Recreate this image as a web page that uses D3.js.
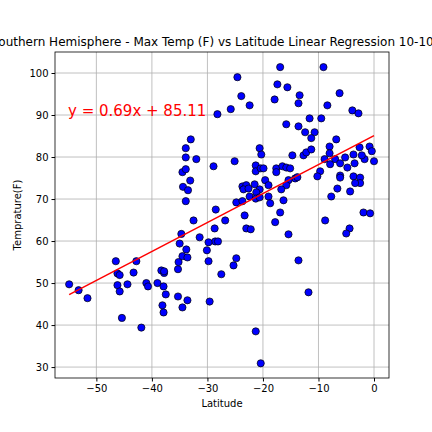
<!DOCTYPE html>
<html><head><meta charset="utf-8">
<script src="https://cdn.jsdelivr.net/npm/d3@7"></script>
<style>body{margin:0;background:#fff}svg{font-family:"DejaVu Sans",sans-serif}</style>
</head><body><svg id="c" width="432" height="432"></svg>
<script>
// latitude / max temp pairs
const lat = [-54.9,-53.2,-51.6,-46.5,-46.2,-45.8,-46.2,-45.8,-45.4,-44.4,-43.3,-42.8,-41.9,-41.0,-40.7,-39.0,-38.3,-37.8,-37.8,-37.9,-37.5,-38.1,-37.9,-35.3,-34.5,-33.6,-35.3,-35.2,-34.5,-33.6,-33.8,-35.0,-34.7,-32.5,-31.4,-33.9,-34.4,-33.5,-33.1,-34.5,-33.9,-33.9,-33.9,-33.0,-32.0,-28.2,-28.9,-28.5,-28.7,-28.6,-28.1,-29.8,-30.1,-29.8,-27.5,-29.6,-26.8,
 -16.9,-9.1,-24.6,-17.4,-15.6,-23.9,-17.9,-13.4,-13.6,-6.2,-22.4,-25.8,-8.4,-3.9,-2.8,-15.8,-13.6,-11.6,-9.5,-12.4,-10.7,-11.3,-6.8,-8.0,-20.6,-20.3,-25.1,-14.7,-12.7,-12.2,-11.3,-8.0,-8.9,-7.9,-7.0,-6.1,-5.2,-4.8,-3.7,-2.6,-3.5,-0.8,-0.4,0.0,-1.7,-2.2,-9.7,-10.2,-6.1,-6.1,-3.7,-2.5,-2.5,-3.4,-6.6,-4.3,-7.7,-1.9,-0.7,-8.8,-4.4,-5.0,
 -21.3,-21.3,-20.4,-19.9,-17.6,-17.6,-16.5,-15.8,-15.1,-19.6,-19.0,-14.2,-13.8,-15.4,-15.8,-16.7,-23.7,-23.0,-23.5,-22.6,-21.5,-20.6,-21.2,-22.4,-21.3,-20.6,-19.0,-16.3,-18.7,-24.8,-23.7,-23.3,-23.0,-22.2,-16.9,-17.8,-15.4,-24.8,-25.3,-13.6,-11.8,-21.3,-20.4];
const temp = [49.7,48.3,46.4,55.2,52.3,51.9,49.5,48.0,41.7,49.7,52.5,55.2,39.4,50,49.2,50,53,52.4,52.8,49.2,47.3,44.7,43.0,46.8,44.2,45.9,53.3,55.0,56.4,56.1,58.0,59.4,61.7,64.9,60.9,69.5,72.9,72.1,74.4,76.4,77.1,79.9,82.1,84.2,79.5,90.2,77.8,67.5,63.0,59.9,59.9,59.7,57.8,55.2,52.1,45.6,64.9,
 101.4,101.4,99.0,97.3,96.6,94.5,93.7,94.7,92.8,95.2,92.3,91.4,92.3,91.1,90.4,87.8,87.3,89.2,89.2,85.9,85.9,84.5,84.2,82.5,82.1,80.6,79.0,80.4,80.4,81.1,81.8,80.9,79.5,78.3,79.5,78.5,79.9,77.5,80.6,82.3,78.5,82.5,81.4,79.0,79.5,80.4,76.6,75.4,75.6,75.1,75.4,75.1,73.8,73.8,72.5,71.8,70.6,66.8,66.6,64.9,63.0,61.8,
 78.0,76.6,77.3,77.3,77.3,76.4,77.8,77.5,77.3,74.5,73.3,74.9,75.2,74.5,73.3,72.3,73.0,73.3,72.3,72.5,73.5,72.3,71.6,70.6,70.1,70.4,70.6,69.7,69.0,69.2,69.5,66.1,63.0,62.8,66.8,64.5,61.6,55.9,54.2,55.4,47.8,38.5,30.9];
const slope = 0.69, intercept = 85.11;
const xTicks = [-50,-40,-30,-20,-10,0];
const yTicks = [30,40,50,60,70,80,90,100];

const svg = d3.select("#c");
const m = {left:55, right:389, top:52, bottom:378};
const x = d3.scaleLinear().domain([-57.45, 2.7]).range([m.left, m.right]);
const y = d3.scaleLinear().domain([27.4, 105]).range([m.bottom, m.top]);

// grid
svg.append("g").selectAll("line").data(xTicks).enter().append("line")
  .attr("x1",d=>x(d)).attr("x2",d=>x(d)).attr("y1",m.top).attr("y2",m.bottom)
  .attr("stroke","#b0b0b0").attr("stroke-width",0.8);
svg.append("g").selectAll("line").data(yTicks).enter().append("line")
  .attr("y1",d=>y(d)).attr("y2",d=>y(d)).attr("x1",m.left).attr("x2",m.right)
  .attr("stroke","#b0b0b0").attr("stroke-width",0.8);

const pts = lat.map((d,i)=>[d,temp[i]]);
svg.append("g").selectAll("circle").data(pts).enter().append("circle")
  .attr("cx",d=>x(d[0])).attr("cy",d=>y(d[1])).attr("r",3.6)
  .attr("fill","#0000ff").attr("stroke","#000").attr("stroke-width",0.7);

const ext = d3.extent(lat);
svg.append("line")
  .attr("x1",x(ext[0])).attr("y1",y(slope*ext[0]+intercept))
  .attr("x2",x(ext[1])).attr("y2",y(slope*ext[1]+intercept))
  .attr("stroke","red").attr("stroke-width",1.5);

svg.append("text").attr("x",68).attr("y",116).attr("fill","red").attr("font-size",15)
  .text("y = " + slope + "x + " + intercept);

svg.append("rect").attr("x",m.left).attr("y",m.top).attr("width",m.right-m.left).attr("height",m.bottom-m.top)
  .attr("fill","none").attr("stroke","#000").attr("stroke-width",0.8);

const ax = svg.append("g").attr("transform",`translate(0,${m.bottom})`)
  .call(d3.axisBottom(x).tickValues(xTicks).tickSizeOuter(0).tickSize(3.5).tickPadding(3));
const ay = svg.append("g").attr("transform",`translate(${m.left},0)`)
  .call(d3.axisLeft(y).tickValues(yTicks).tickSizeOuter(0).tickSize(3.5).tickPadding(3));
[ax,ay].forEach(a=>{a.select(".domain").remove();a.selectAll("text").attr("font-size",10).attr("font-family","DejaVu Sans");});

svg.append("text").attr("x",(m.left+m.right)/2).attr("y",407).attr("text-anchor","middle").attr("font-size",10).text("Latitude");
svg.append("text").attr("transform",`translate(21,${(m.top+m.bottom)/2}) rotate(-90)`).attr("text-anchor","middle").attr("font-size",10).text("Temprature(F)");
svg.append("text").attr("x",(m.left+m.right)/2).attr("y",46).attr("text-anchor","middle").attr("font-size",12)
  .text("Southern Hemisphere - Max Temp (F) vs Latitude Linear Regression 10-10-20");
</script></body></html>
